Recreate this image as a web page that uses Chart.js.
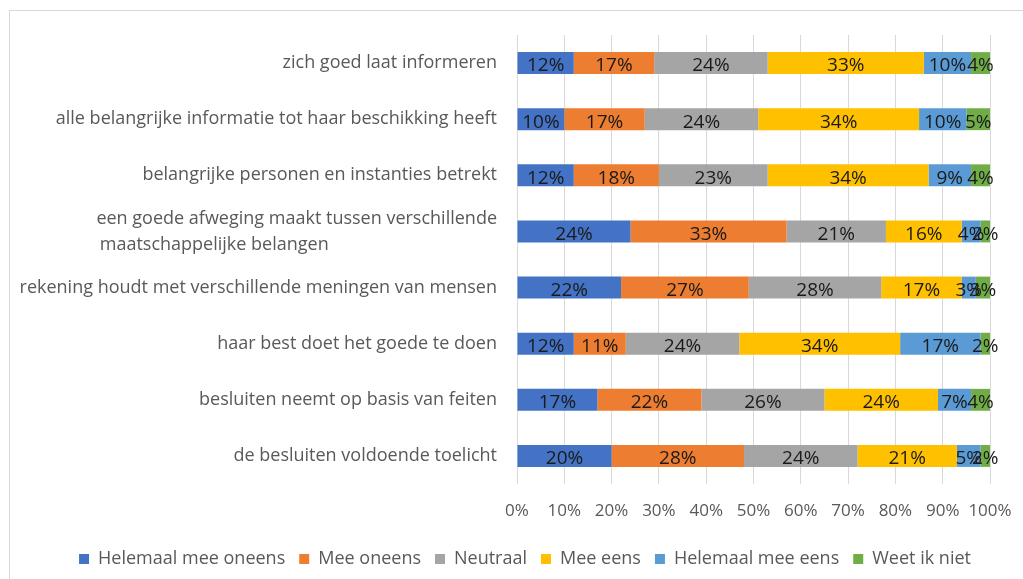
<!DOCTYPE html>
<html>
<head>
<meta charset="utf-8">
<script src="https://cdn.jsdelivr.net/npm/chart.js@4.4.1/dist/chart.umd.min.js"></script>
<style>
  html, body { margin: 0; padding: 0; background: #fff; }
  #frame { position: absolute; left: 9px; top: 10px; width: 1100px; height: 700px;
    border-left: 1px solid #d9d9d9; border-top: 1px solid #d9d9d9; }
  #wrap { position: absolute; left: 0; top: 0; width: 1023px; height: 579px; }
</style>
</head>
<body>
<div id="frame"></div>
<div id="wrap"><canvas id="chart"></canvas></div>
<script>
const FONT = 'Open Sans';

const categories = [
  ['zich goed laat informeren'],
  ['alle belangrijke informatie tot haar beschikking heeft'],
  ['belangrijke personen en instanties betrekt'],
  ['een goede afweging maakt tussen verschillende', 'maatschappelijke belangen'],
  ['rekening houdt met verschillende meningen van mensen'],
  ['haar best doet het goede te doen'],
  ['besluiten neemt op basis van feiten'],
  ['de besluiten voldoende toelicht']
];

const seriesNames = ['Helemaal mee oneens', 'Mee oneens', 'Neutraal', 'Mee eens', 'Helemaal mee eens', 'Weet ik niet'];
const helemaalOneens = [12, 10, 12, 24, 22, 12, 17, 20];
const meeOneens      = [17, 17, 18, 33, 27, 11, 22, 28];
const neutraal       = [24, 24, 23, 21, 28, 24, 26, 24];
const meeEens        = [33, 34, 34, 16, 17, 34, 24, 21];
const helemaalEens   = [10, 10, 9, 4, 3, 17, 7, 5];
const weetNiet       = [4, 5, 4, 2, 3, 2, 4, 2];
const colors = ['#4472C4', '#ED7D31', '#A5A5A5', '#FFC000', '#5B9BD5', '#70AD47'];

const xTicks = [0, 10, 20, 30, 40, 50, 60, 70, 80, 90, 100];

// wrapped labels: pad shorter lines so they read left-aligned under the first
const measureCtx = document.createElement('canvas').getContext('2d');
measureCtx.font = '18px "' + FONT + '"';
function padLines(lines) {
  if (lines.length < 2) return lines[0];
  const w = Math.max(...lines.map(l => measureCtx.measureText(l).width));
  return lines.map(l => {
    let s = l;
    while (measureCtx.measureText(s + ' ').width <= w + 1) s += ' ';
    return s;
  });
}
const labels = categories.map(padLines);

const dataLabels = {
  id: 'dataLabels',
  afterDatasetsDraw(chart) {
    const ctx = chart.ctx;
    ctx.save();
    ctx.font = '19px "' + FONT + '"';
    ctx.fillStyle = '#1a1a1a';
    ctx.textAlign = 'center';
    ctx.textBaseline = 'middle';
    chart.data.datasets.forEach((ds, i) => {
      chart.getDatasetMeta(i).data.forEach((el, j) => {
        ctx.fillText(ds.data[j] + '%', (el.x + el.base) / 2, el.y + 3);
      });
    });
    ctx.restore();
  }
};

// legend in the original sits a bit right of the canvas centre
const shiftLegend = {
  id: 'shiftLegend',
  afterLayout(chart) {
    chart.legend.left += 30;
    chart.legend.right += 30;
  }
};

const allSeries = [helemaalOneens, meeOneens, neutraal, meeEens, helemaalEens, weetNiet];

new Chart(document.getElementById('chart'), {
  type: 'bar',
  data: {
    labels: labels,
    datasets: allSeries.map((d, i) => ({
      label: seriesNames[i], data: d, backgroundColor: colors[i],
      borderWidth: 0, barPercentage: 0.39, categoryPercentage: 1
    }))
  },
  options: {
    indexAxis: 'y',
    responsive: true,
    maintainAspectRatio: false,
    animation: false,
    layout: { padding: { top: 35, right: 33, bottom: 1, left: 0 } },
    plugins: {
      legend: {
        position: 'bottom',
        labels: { color: '#595959', boxWidth: 10, boxHeight: 10, padding: 14, font: { family: FONT, size: 18 } }
      },
      tooltip: { enabled: false }
    },
    scales: {
      x: {
        stacked: true, min: 0, max: 100,
        afterBuildTicks: (axis) => { axis.ticks = xTicks.map(v => ({ value: v })); },
        ticks: { color: '#595959', padding: 17, maxRotation: 0, minRotation: 0, autoSkip: false,
          font: { family: FONT, size: 17 }, callback: (v) => v + '%' },
        grid: { color: '#d9d9d9', drawTicks: false },
        border: { display: false },
        afterFit: (axis) => { axis.height = 52; axis.paddingLeft = 0; axis.paddingRight = 0; }
      },
      y: {
        stacked: true,
        ticks: { color: '#595959', padding: 20, font: { family: FONT, size: 18, lineHeight: 1.45 } },
        grid: { display: false, drawTicks: false },
        border: { display: false },
        afterFit: (axis) => { axis.width = 517; }
      }
    }
  },
  plugins: [dataLabels, shiftLegend]
});
</script>
</body>
</html>
